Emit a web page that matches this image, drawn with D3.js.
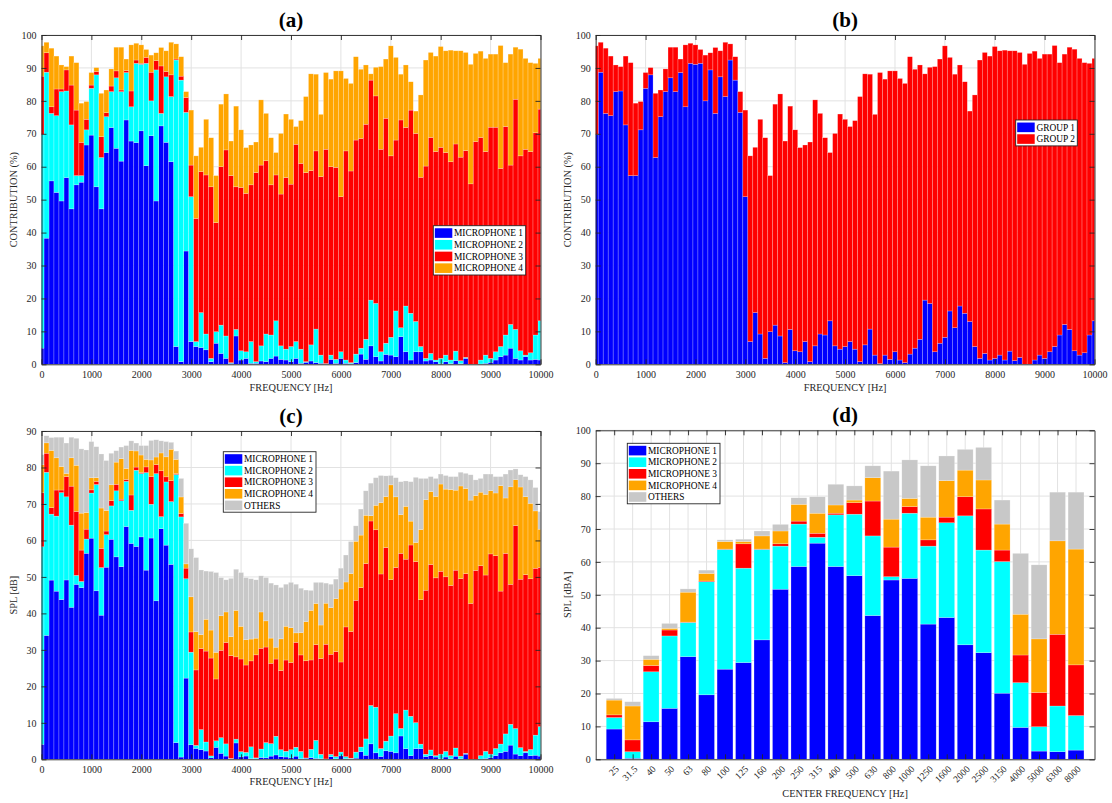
<!DOCTYPE html>
<html>
<head>
<meta charset="utf-8">
<script src="https://cdn.jsdelivr.net/npm/d3@7"></script>
<style>
  body { margin: 0; background: #ffffff; }
  svg { display: block; }
</style>
</head>
<body>
<svg id="chart" width="1112" height="803"></svg>
<script>
// ---------------------------------------------------------------------------
// Narrow-band contributions (100 Hz resolution, 0 - 10000 Hz)
// ---------------------------------------------------------------------------
const freqHz = d3.range(0, 10001, 100);
const freqTicks = [0, 1000, 2000, 3000, 4000, 5000, 6000, 7000, 8000, 9000, 10000];

// Contribution of each microphone to the measured level, in percent
const mic1Pct = [
  4.9, 38.3, 55.7, 52.2, 49.6, 56.7, 47.2, 54.5, 55.3, 66.6,
  69.6, 53.9, 47.2, 64.3, 71.9, 65.6, 61.7, 74.2, 67.8, 67.3,
  70.9, 60.3, 69.4, 49.6, 72.4, 67.4, 61.5, 5.4, 0.8, 34.4,
  6.9, 5.4, 5.1, 4.4, 0.8, 6.4, 3.3, 1.8, 0.3, 8.6,
  1.3, 1.8, 0.3, 0.3, 1.0, 0.8, 1.8, 2.5, 1.5, 1.3,
  0.8, 1.8, 0.3, 0.6, 1.0, 0.5, 0.3, 0.0, 1.5, 0.3,
  1.8, 0.3, 0.2, 0.5, 3.1, 1.5, 5.6, 2.3, 1.0, 3.0,
  2.8, 2.3, 8.4, 3.8, 1.3, 3.8, 3.8, 1.0, 1.3, 0.8,
  0.2, 0.8, 0.2, 1.1, 0.2, 1.8, 0.0, 0.0, 0.1, 0.3,
  0.6, 1.3, 2.3, 2.8, 4.9, 1.8, 1.3, 2.3, 1.3, 1.5,
  1.3
];
const mic2Pct = [
  64.9, 50.4, 20.5, 23.3, 33.2, 26.3, 25.5, 2.8, 2.0, 4.6,
  14.2, 34.0, 15.6, 10.9, 10.9, 21.4, 21.1, 14.4, 10.4, 24.1,
  20.2, 31.1, 10.6, 39.8, 3.8, 19.9, 19.8, 87.0, 85.5, 42.1,
  44.0, 1.5, 10.6, 4.8, 1.0, 3.5, 8.6, 6.8, 0.2, 2.0,
  2.8, 2.0, 6.6, 0.5, 4.6, 8.4, 7.1, 10.7, 4.1, 3.3,
  4.6, 5.1, 4.3, 0.2, 4.9, 10.2, 2.5, 0.2, 1.3, 1.2,
  2.0, 1.0, 0.3, 2.6, 1.8, 6.1, 13.9, 16.2, 2.8, 3.4,
  5.4, 13.9, 2.7, 13.9, 14.2, 9.2, 1.6, 0.8, 2.0, 0.5,
  1.6, 2.0, 1.1, 2.9, 0.9, 0.3, 0.0, 0.0, 1.2, 2.5,
  1.2, 2.5, 3.1, 6.1, 7.2, 8.8, 2.8, 0.5, 2.2, 7.4,
  11.9
];
const mic3Pct = [
  17.7, 5.9, 2.0, 8.1, 0.8, 6.4, 12.1, 19.9, 10.1, 3.2,
  1.0, 1.0, 6.3, 1.2, 1.7, 2.1, 0.5, 0.6, 4.8, 1.0,
  0.3, 1.8, 8.7, 2.8, 14.4, 1.6, 6.6, 0.3, 1.2, 4.5,
  9.6, 37.4, 42.8, 48.3, 52.1, 33.1, 48.1, 56.5, 56.8, 43.3,
  49.6, 48.1, 47.6, 57.4, 54.9, 52.6, 45.6, 44.3, 46.1, 52.1,
  49.3, 59.9, 56.4, 57.4, 52.9, 54.1, 54.2, 65.1, 57.2, 58.3,
  47.1, 63.5, 58.2, 65.0, 63.7, 65.3, 66.8, 63.0, 61.5, 68.3,
  55.1, 51.9, 63.1, 54.2, 61.7, 57.1, 51.4, 58.4, 65.6, 63.3,
  64.1, 61.5, 60.2, 62.9, 61.8, 62.8, 54.8, 67.6, 67.6, 61.8,
  70.2, 68.2, 54.1, 63.3, 48.4, 69.9, 59.2, 62.5, 61.1, 61.4,
  64.3
];
const mic4Pct = [
  9.2, 3.2, 17.8, 10.0, 7.3, 1.0, 8.8, 14.4, 11.9, 5.4,
  3.8, 1.2, 13.2, 6.9, 5.2, 7.2, 13.0, 3.5, 14.0, 5.1,
  5.6, 2.4, 5.2, 2.4, 5.6, 6.3, 9.9, 4.6, 5.9, 1.8,
  16.7, 19.0, 7.4, 16.9, 14.9, 14.3, 19.0, 17.0, 10.5, 24.5,
  17.5, 13.9, 12.1, 9.3, 19.8, 14.4, 14.3, 6.8, 18.4, 19.3,
  19.7, 5.4, 13.0, 23.1, 29.4, 23.3, 18.9, 23.3, 26.6, 29.3,
  38.2, 22.0, 26.6, 25.3, 21.0, 18.0, 1.9, 8.7, 25.1, 18.0,
  33.4, 25.1, 13.9, 19.0, 8.6, 6.8, 25.0, 32.2, 25.8, 29.0,
  30.6, 30.9, 33.9, 28.3, 32.3, 29.8, 36.3, 26.8, 26.2, 28.3,
  22.2, 22.2, 37.3, 19.4, 33.7, 15.8, 32.4, 27.6, 27.0, 21.1,
  15.4
];

// Overall sound pressure level per band, dB
const splTotal = [
  83.5, 88.7, 88.2, 88.3, 88.3, 86.7, 88.3, 88.0, 85.1, 84.8,
  87.1, 85.7, 83.7, 81.9, 83.9, 84.6, 85.6, 86.0, 87.3, 86.7,
  86.0, 86.0, 87.4, 87.6, 87.3, 87.1, 86.9, 84.5, 77.0, 64.7,
  57.7, 55.3, 51.9, 51.6, 51.5, 51.2, 49.8, 49.2, 49.6, 52.1,
  51.2, 49.8, 49.5, 49.2, 50.3, 49.8, 48.3, 47.8, 47.1, 48.0,
  48.5, 48.0, 46.9, 46.4, 46.3, 48.5, 48.5, 48.3, 48.0, 49.4,
  52.4, 56.0, 59.7, 64.0, 68.6, 73.6, 75.7, 77.2, 77.8, 77.7,
  77.8, 77.2, 76.1, 76.3, 76.1, 77.3, 77.0, 77.0, 77.5, 77.0,
  78.2, 77.8, 77.5, 77.5, 78.7, 78.4, 78.0, 76.6, 77.0, 78.2,
  78.2, 77.5, 77.5, 78.2, 79.3, 79.6, 78.0, 77.5, 76.6, 74.5,
  67.9
];

// ---------------------------------------------------------------------------
// One-third octave bands, A-weighted SPL per source
// ---------------------------------------------------------------------------
const bandLabels = ["25", "31.5", "40", "50", "63", "80", "100", "125", "160", "200",
  "250", "315", "400", "500", "630", "800", "1000", "1250", "1600", "2000",
  "2500", "3150", "4000", "5000", "6300", "8000"];
const bandMic1 = [9.2, 0.3, 11.4, 15.5, 31.2, 19.6, 27.4, 29.4, 36.3, 51.7,
  58.6, 65.7, 58.6, 55.8, 43.7, 54.5, 55.0, 41.1, 43.1, 34.8,
  32.4, 20.1, 9.7, 2.5, 2.3, 2.8];
const bandMic2 = [3.5, 2.0, 15.2, 22.0, 10.4, 34.4, 36.4, 28.7, 27.5, 13.1,
  12.9, 1.8, 15.7, 18.7, 24.2, 1.0, 19.8, 23.7, 28.8, 39.2,
  31.2, 40.0, 13.6, 7.4, 13.9, 10.5];
const bandMic3 = [0.8, 3.6, 1.9, 1.8, 0.1, 0.2, 0.1, 7.4, 0.1, 0.7,
  0.9, 1.2, 0.5, 3.5, 10.6, 9.0, 2.0, 1.9, 1.7, 5.8,
  12.5, 3.5, 8.4, 10.4, 21.8, 15.4];
const bandMic4 = [4.5, 10.3, 1.9, 0.5, 9.1, 2.3, 2.3, 0.7, 4.0, 3.9,
  5.1, 6.1, 2.5, 0.8, 7.1, 8.5, 2.5, 6.9, 11.1, 8.1,
  8.8, 7.9, 12.4, 16.3, 28.4, 35.2];
const bandOthers = [0.5, 1.3, 1.1, 1.5, 1.0, 1.0, 0.5, 0.7, 1.5, 2.0,
  2.0, 5.0, 6.3, 4.3, 3.6, 14.6, 11.7, 15.6, 7.5, 6.3,
  9.9, 7.3, 18.5, 22.5, 14.8, 17.3];

// Legend texts and fill colours
const micNames = ["MICROPHONE 1", "MICROPHONE 2", "MICROPHONE 3", "MICROPHONE 4"];
const groupNames = ["GROUP 1", "GROUP 2"];
const othersName = "OTHERS";
const colBlue = "#0000ff", colCyan = "#00ffff", colRed = "#ff0000",
      colOrange = "#ffa500", colGray = "#c8c8c8";

// ---------------------------------------------------------------------------
const FONT = "'Liberation Serif','Times New Roman',Times,serif";
const INK = "#262626";
const svg = d3.select("#chart");
svg.append("rect").attr("width", 1112).attr("height", 803).attr("fill", "#fff");

const boxA = { left: 41.5, right: 540.5, top: 35, bottom: 364.3 };
const boxB = { left: 595.7, right: 1094.5, top: 35, bottom: 364.3 };
const boxC = { left: 41.5, right: 540.5, top: 431, bottom: 759.3 };
const boxD = { left: 595.7, right: 1094.5, top: 430.3, bottom: 759.3 };

let clipId = 0;

function drawGrid(g, box, xs, ys, x, y) {
  const gg = g.append("g").attr("stroke", "#e2e2e2").attr("stroke-width", 1);
  xs.forEach(v => gg.append("line")
    .attr("x1", x(v)).attr("x2", x(v)).attr("y1", box.top).attr("y2", box.bottom));
  ys.forEach(v => gg.append("line")
    .attr("x1", box.left).attr("x2", box.right).attr("y1", y(v)).attr("y2", y(v)));
}

function drawStack(g, box, rows, keys, colors, x, y, barW) {
  const id = "clip" + (clipId++);
  g.append("clipPath").attr("id", id).append("rect")
    .attr("x", box.left).attr("y", box.top)
    .attr("width", box.right - box.left).attr("height", box.bottom - box.top);
  const series = d3.stack().keys(keys)(rows);
  const layer = g.append("g").attr("clip-path", `url(#${id})`);
  series.forEach((s, i) => {
    layer.append("g").attr("fill", colors[i])
      .attr("stroke", "rgba(255,255,255,0.45)").attr("stroke-width", 0.5)
      .selectAll("rect").data(s).join("rect")
      .attr("x", d => x(d.data.key) - barW / 2)
      .attr("width", barW)
      .attr("y", d => y(d[1]))
      .attr("height", d => Math.max(0, y(d[0]) - y(d[1])));
  });
}

function drawAxes(g, box, x, y, xTickVals, yTickVals, xFmt) {
  const bottom = g.append("g").attr("transform", `translate(0,${box.bottom})`)
    .call(d3.axisBottom(x).tickValues(xTickVals).tickSizeInner(-5).tickSizeOuter(0)
      .tickPadding(7).tickFormat(xFmt));
  const top = g.append("g").attr("transform", `translate(0,${box.top})`)
    .call(d3.axisTop(x).tickValues(xTickVals).tickSizeInner(-5).tickSizeOuter(0)
      .tickFormat(""));
  const left = g.append("g").attr("transform", `translate(${box.left},0)`)
    .call(d3.axisLeft(y).tickValues(yTickVals).tickSizeInner(-5).tickSizeOuter(0)
      .tickPadding(5).tickFormat(d3.format("d")));
  const right = g.append("g").attr("transform", `translate(${box.right},0)`)
    .call(d3.axisRight(y).tickValues(yTickVals).tickSizeInner(-5).tickSizeOuter(0)
      .tickFormat(""));
  [bottom, top, left, right].forEach(a => {
    a.select(".domain").attr("stroke", INK).attr("stroke-width", 0.9);
    a.selectAll(".tick line").attr("stroke", INK).attr("stroke-width", 0.9);
    a.selectAll("text").attr("font-family", FONT).attr("font-size", 10).attr("fill", INK);
  });
  return bottom;
}

function drawTitles(g, box, title, xLabel, yLabel, xLabelY) {
  const cx = (box.left + box.right) / 2;
  g.append("text").attr("x", cx).attr("y", box.top - 8)
    .attr("text-anchor", "middle").attr("font-family", FONT)
    .attr("font-weight", "bold").attr("font-size", 21).attr("fill", "#000").text(title);
  g.append("text").attr("x", cx).attr("y", xLabelY)
    .attr("text-anchor", "middle").attr("font-family", FONT)
    .attr("font-size", 10.3).attr("fill", INK).text(xLabel);
  const cy = (box.top + box.bottom) / 2;
  g.append("text").attr("transform", `translate(${box.left - 25},${cy}) rotate(-90)`)
    .attr("text-anchor", "middle").attr("font-family", FONT)
    .attr("font-size", 10.3).attr("fill", INK).text(yLabel);
}

function drawLegend(g, x0, y0, w, rowH, names, colors) {
  const h = rowH * names.length + 2.5;
  g.append("rect").attr("x", x0).attr("y", y0).attr("width", w).attr("height", h)
    .attr("fill", "#fff").attr("stroke", INK).attr("stroke-width", 0.9);
  names.forEach((n, i) => {
    const cy = y0 + 1.5 + rowH * (i + 0.5);
    g.append("rect").attr("x", x0 + 1.5).attr("y", cy - 4.8)
      .attr("width", 17.5).attr("height", 9.6).attr("fill", colors[i]);
    g.append("text").attr("x", x0 + 20.7).attr("y", cy).attr("dy", "0.35em")
      .attr("font-family", FONT).attr("font-size", 9.4).attr("fill", "#000").text(n);
  });
}

// ---------------------------------------------------------------------------
// Rows for the narrow-band panels
const pctRows = freqHz.map((f, i) => ({
  key: f, m1: mic1Pct[i], m2: mic2Pct[i], m3: mic3Pct[i], m4: mic4Pct[i]
}));
const groupRows = pctRows.map(r => ({ key: r.key, g1: r.m1 + r.m2, g2: r.m3 + r.m4 }));
const splRows = pctRows.map((r, i) => {
  const k = splTotal[i] / 100;
  const m = [r.m1 * k, r.m2 * k, r.m3 * k, r.m4 * k];
  return { key: r.key, m1: m[0], m2: m[1], m3: m[2], m4: m[3],
           oth: Math.max(0, splTotal[i] - d3.sum(m)) };
});

const pctTicks = d3.range(0, 101, 10);
const splTicks = d3.range(0, 91, 10);

// (a) contribution per microphone
{
  const g = svg.append("g");
  const x = d3.scaleLinear().domain([0, 10000]).range([boxA.left, boxA.right]);
  const y = d3.scaleLinear().domain([0, 100]).range([boxA.bottom, boxA.top]);
  drawGrid(g, boxA, freqTicks, pctTicks, x, y);
  drawStack(g, boxA, pctRows, ["m1", "m2", "m3", "m4"],
    [colBlue, colCyan, colRed, colOrange], x, y, x(100) - x(0));
  drawAxes(g, boxA, x, y, freqTicks, pctTicks, d3.format("d"));
  drawTitles(g, boxA, "(a)", "FREQUENCY [Hz]", "CONTRIBUTION (%)", 391);
  drawLegend(g, 433.3, 225.7, 92.4, 11.7, micNames, [colBlue, colCyan, colRed, colOrange]);
}

// (b) contribution per microphone group
{
  const g = svg.append("g");
  const x = d3.scaleLinear().domain([0, 10000]).range([boxB.left, boxB.right]);
  const y = d3.scaleLinear().domain([0, 100]).range([boxB.bottom, boxB.top]);
  drawGrid(g, boxB, freqTicks, pctTicks, x, y);
  drawStack(g, boxB, groupRows, ["g1", "g2"], [colBlue, colRed], x, y, x(100) - x(0));
  drawAxes(g, boxB, x, y, freqTicks, pctTicks, d3.format("d"));
  drawTitles(g, boxB, "(b)", "FREQUENCY [Hz]", "CONTRIBUTION (%)", 391);
  drawLegend(g, 1015.7, 120, 61.6, 11.7, groupNames, [colBlue, colRed]);
}

// (c) narrow-band SPL split by source
{
  const g = svg.append("g");
  const x = d3.scaleLinear().domain([0, 10000]).range([boxC.left, boxC.right]);
  const y = d3.scaleLinear().domain([0, 90]).range([boxC.bottom, boxC.top]);
  drawGrid(g, boxC, freqTicks, splTicks, x, y);
  drawStack(g, boxC, splRows, ["m1", "m2", "m3", "m4", "oth"],
    [colBlue, colCyan, colRed, colOrange, colGray], x, y, x(100) - x(0));
  drawAxes(g, boxC, x, y, freqTicks, splTicks, d3.format("d"));
  drawTitles(g, boxC, "(c)", "FREQUENCY [Hz]", "SPL [dB]", 785);
  drawLegend(g, 223.3, 451.7, 92.7, 11.6, micNames.concat([othersName]),
    [colBlue, colCyan, colRed, colOrange, colGray]);
}

// (d) one-third octave band levels
{
  const g = svg.append("g");
  const rows = bandLabels.map((b, i) => ({
    key: i + 1, m1: bandMic1[i], m2: bandMic2[i], m3: bandMic3[i],
    m4: bandMic4[i], oth: bandOthers[i]
  }));
  const idx = rows.map(r => r.key);
  const x = d3.scaleLinear().domain([0, bandLabels.length + 1]).range([boxD.left, boxD.right]);
  const y = d3.scaleLinear().domain([0, 100]).range([boxD.bottom, boxD.top]);
  drawGrid(g, boxD, idx, pctTicks, x, y);
  drawStack(g, boxD, rows, ["m1", "m2", "m3", "m4", "oth"],
    [colBlue, colCyan, colRed, colOrange, colGray], x, y, (x(1) - x(0)) * 0.86);
  const bottom = drawAxes(g, boxD, x, y, idx, pctTicks, () => "");
  bottom.selectAll("text").remove();
  idx.forEach((k, i) => {
    g.append("text")
      .attr("transform", `translate(${x(k) + 3},${boxD.bottom + 8}) rotate(-45)`)
      .attr("text-anchor", "end").attr("dy", "0.35em")
      .attr("font-family", FONT).attr("font-size", 9.5).attr("fill", INK)
      .text(bandLabels[i]);
  });
  drawTitles(g, boxD, "(d)", "CENTER FREQUENCY [Hz]", "SPL [dBA]", 797);
  drawLegend(g, 627.3, 443.3, 92.7, 11.6, micNames.concat([othersName]),
    [colBlue, colCyan, colRed, colOrange, colGray]);
}
</script>
</body>
</html>
